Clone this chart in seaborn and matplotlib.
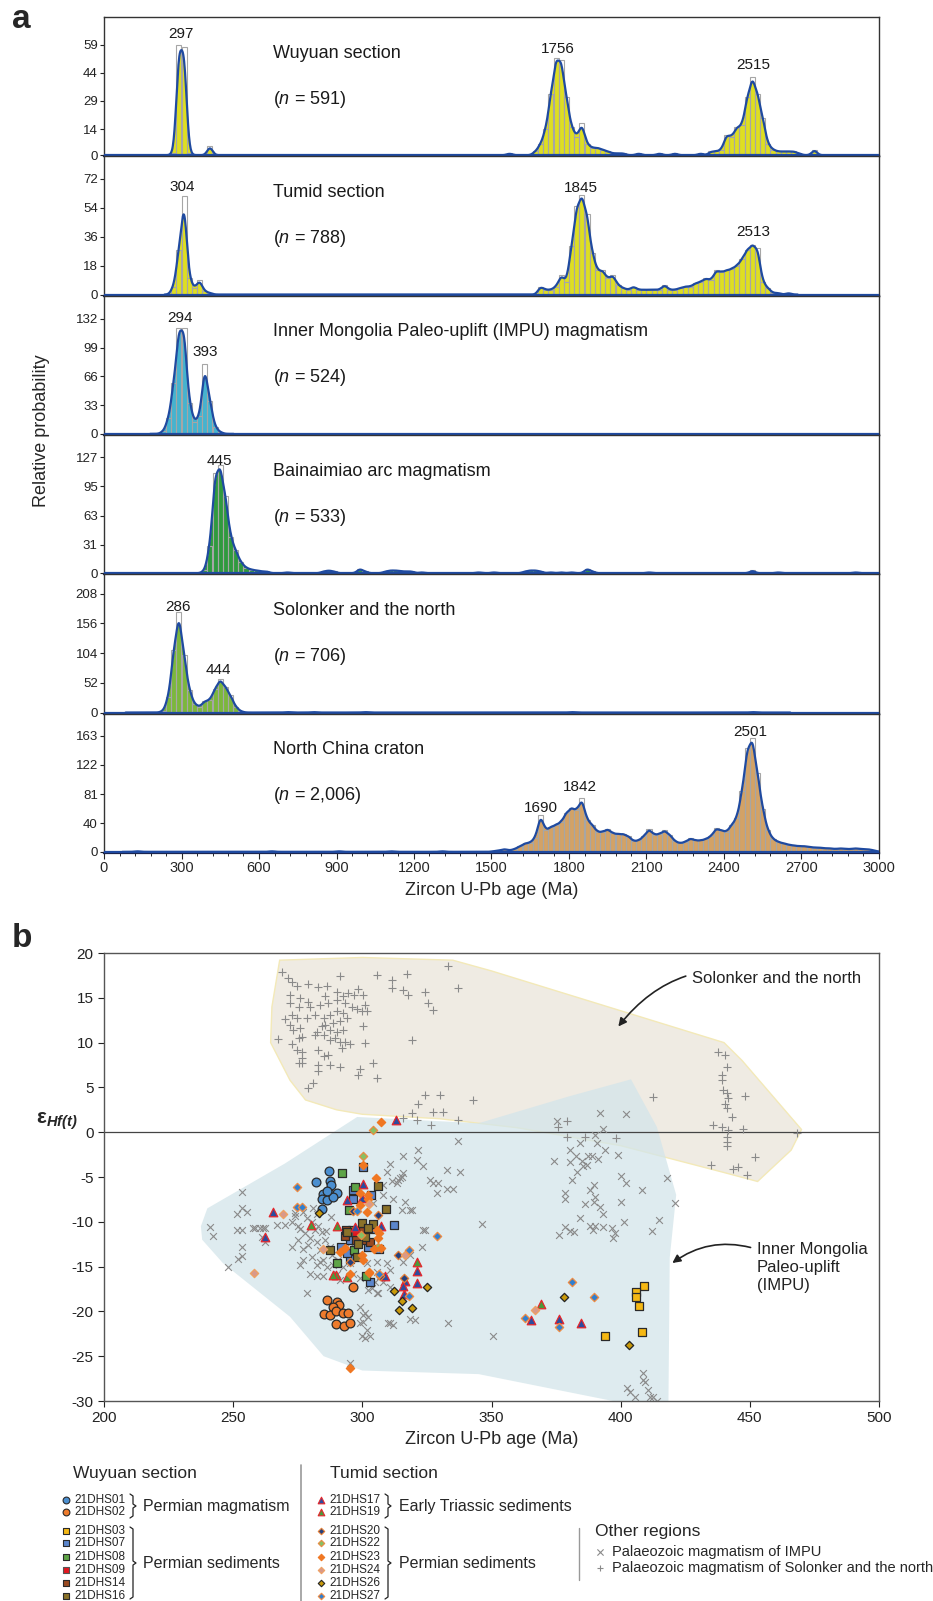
import numpy as np
import matplotlib
matplotlib.use("Agg")
import matplotlib.pyplot as plt
import seaborn as sns

# ---------------- panel a: detrital zircon age spectra (20 Ma bins) ----------------
wuyuan_bins = [260, 280, 300, 320, 400, 1560, 1660, 1680, 1700, 1720, 1740, 1760, 1780, 1800, 1820,
               1840, 1860, 1880, 1900, 1920, 1940, 1960, 1980, 2000, 2060, 2140, 2200, 2300, 2340,
               2360, 2380, 2400, 2420, 2440, 2460, 2480, 2500, 2520, 2540, 2560, 2580, 2600, 2620,
               2640, 2660, 2680, 2740]
wuyuan_counts = [1, 59, 58, 1, 5, 1, 2, 6, 14, 33, 52, 51, 31, 15, 10,
                 17, 6, 4, 4, 3, 2, 1, 1, 1, 1, 1, 1, 1, 2,
                 2, 3, 11, 10, 15, 16, 31, 42, 33, 20, 6, 3, 2, 2,
                 2, 2, 1, 3]

tumid_bins = [260, 280, 300, 320, 340, 360, 380, 400] + list(range(1680, 2620, 20)) + [2640]
tumid_counts = [5, 28, 61, 10, 4, 9, 2, 1,
                5, 3, 3, 5, 12, 8, 30, 55, 62, 50, 26, 15, 15, 10, 12, 6, 4, 3, 5, 3,
                3, 3, 3, 3, 6, 3, 3, 4, 5, 5, 7, 8, 10, 9, 15, 14, 15, 16, 18, 22,
                28, 31, 29, 8, 4, 1, 1, 1]

impu_bins = [220, 240, 260, 280, 300, 320, 340, 360, 380, 400, 420, 440]
impu_counts = [3, 18, 59, 122, 122, 36, 14, 20, 80, 38, 8, 2]

bnm_bins = [380, 400, 420, 440, 460, 480, 500, 520, 540, 560, 580, 600, 620, 700, 840, 860, 880,
            980, 1000, 1080, 1100, 1120, 1140, 1160, 1180, 1220, 1440, 1500, 1620, 1640, 1660,
            1680, 1720, 1760, 1800, 1860, 1880, 2100, 2500, 2600, 2900]
bnm_counts = [3, 30, 110, 118, 85, 40, 25, 12, 6, 4, 3, 2, 2, 1, 2, 3, 2,
              5, 2, 2, 3, 3, 2, 2, 2, 1, 1, 1, 2, 3, 3,
              2, 1, 1, 1, 5, 2, 1, 3, 1, 1]

sol_bins = [220, 240, 260, 280, 300, 320, 340, 360, 380, 400, 420, 440, 460, 480, 500, 520,
            700, 800, 1000, 1800, 2500]
sol_counts = [3, 28, 110, 175, 100, 40, 15, 10, 20, 22, 42, 58, 45, 30, 10, 2, 1, 1, 1, 1, 1]

ncc_bins = [120, 640, 900, 1100, 1300] + list(range(1500, 3000, 20))
ncc_counts = [1, 1, 1, 1, 1,
              1, 2, 4, 2, 4, 8, 12, 13, 20, 52, 30, 35, 38, 42, 55, 62, 58, 75, 45, 38,
              28, 28, 32, 26, 25, 25, 22, 15, 16, 22, 32, 24, 25, 30, 24, 15, 12, 14, 19, 16,
              16, 18, 22, 33, 30, 28, 38, 48, 85, 145, 160, 110, 60, 30, 18, 14, 12, 10, 9, 8,
              8, 7, 6, 6, 5, 5, 4, 5, 4, 4, 5, 4, 4, 3, 1]

panel_names = ["Wuyuan section", "Tumid section",
               "Inner Mongolia Paleo-uplift (IMPU) magmatism", "Bainaimiao arc magmatism",
               "Solonker and the north", "North China craton"]
panel_n = ["591", "788", "524", "533", "706", "2,006"]
panel_yticks = [[0, 14, 29, 44, 59], [0, 18, 36, 54, 72], [0, 33, 66, 99, 132],
                [0, 31, 63, 95, 127], [0, 52, 104, 156, 208], [0, 40, 81, 122, 163]]
peak_ages = [[297, 1756, 2515], [304, 1845, 2513], [294, 393], [445], [286, 444],
             [1690, 1842, 2501]]
peak_label_y = [[65, 57, 48], [67, 66, 39], [133, 94], [123], [184, 75], [62, 91, 168]]

# ---------------- panel b: zircon Hf isotopes ----------------
solonker_age = [268.8, 271.4, 272.7, 274.6, 279.1, 283.0, 286.2, 291.4, 290.1, 305.6, 311.4, 311.4,
                317.2, 315.9, 317.8, 324.3, 333.3, 337.2, 325.6, 327.5, 272.0, 275.9, 272.0, 275.3,
                279.1, 279.8, 283.6, 285.6, 286.9, 290.1, 292.7, 294.6, 296.6, 298.5, 300.4, 293.3,
                295.9, 297.8, 301.1, 299.8, 301.7, 270.1, 272.7, 274.6, 278.5, 281.7, 285.0, 287.5,
                290.1, 292.7, 294.0, 291.4, 288.8, 285.6, 284.3, 282.4, 272.0, 273.3, 275.9, 287.5,
                290.1, 292.7, 300.4, 267.5, 272.7, 275.3, 276.6, 281.7, 285.0, 287.5, 289.5, 291.4,
                293.3, 292.1, 295.3, 301.1, 319.1, 274.6, 276.6, 276.6, 275.3, 276.6, 283.0, 285.0,
                286.9, 287.5, 291.4, 283.0, 283.0, 299.1, 304.3, 298.5, 305.6, 279.1, 281.0, 324.3,
                330.1, 321.7, 327.5, 331.4, 326.5, 319.1, 315.9, 321.0, 343.0, 337.2, 412.7, 437.8,
                440.4, 441.1, 439.1, 439.1, 439.8, 441.1, 448.2, 441.7, 440.4, 441.1, 443.0, 435.9,
                439.1, 441.7, 447.5, 441.1, 441.1, 441.1, 468.2, 452.0, 435.0, 443.6, 445.6, 448.8,
                379.1, 375.9, 379.1, 386.2, 398.2]
solonker_eps = [17.9, 17.2, 16.8, 16.3, 16.5, 16.2, 16.3, 17.4, 15.7, 17.6, 17.0, 16.1,
                17.7, 15.9, 15.3, 15.7, 18.5, 16.1, 14.4, 13.6, 15.3, 15.0, 14.4, 14.0,
                14.5, 14.0, 14.2, 15.2, 14.4, 14.8, 15.2, 15.5, 15.3, 16.0, 15.3, 14.4,
                14.0, 13.7, 14.2, 13.5, 13.5, 12.6, 13.1, 12.7, 12.7, 13.1, 12.7, 13.1,
                13.5, 13.3, 12.7, 12.4, 12.2, 12.0, 11.8, 11.2, 12.0, 11.4, 11.6, 11.4,
                11.2, 11.4, 11.9, 10.4, 9.8, 10.5, 10.6, 10.9, 10.9, 10.3, 10.5, 10.1,
                10.1, 9.4, 9.8, 9.9, 10.3, 9.2, 8.9, 8.3, 7.7, 7.7, 9.2, 8.5,
                8.6, 7.5, 7.3, 7.5, 6.8, 7.1, 7.7, 6.4, 6.0, 4.9, 5.5, 4.2,
                4.2, 3.1, 2.2, 2.2, 0.8, 2.1, 1.6, 1.4, 3.6, 1.4, 3.9, 9.0,
                8.6, 7.3, 6.4, 5.8, 4.7, 4.4, 4.0, 3.8, 3.2, 2.7, 1.7, 0.8,
                0.6, 0.2, 0.4, -0.5, -1.1, -1.5, -0.1, -2.8, -3.7, -4.1, -3.9, -4.8,
                1.2, 0.6, -0.5, -0.5, -0.7]

impu_age = [241.0, 242.3, 253.3, 251.4, 253.3, 255.2, 251.4, 253.3, 257.8, 260.4, 262.3, 261.0,
            253.3, 253.3, 252.0, 248.1, 262.3, 278.5, 266.8, 275.9, 277.2, 273.9, 272.6, 278.5,
            270.1, 275.2, 280.4, 282.3, 277.8, 281.7, 284.3, 279.8, 275.2, 272.6, 277.2, 282.3,
            285.6, 287.5, 283.6, 280.4, 277.2, 275.9, 282.3, 284.9, 288.1, 290.7, 292.7, 295.2,
            296.5, 299.1, 291.4, 290.1, 301.7, 305.6, 303.0, 308.1, 310.7, 302.3, 306.2, 299.1,
            301.0, 302.3, 300.4, 299.1, 310.7, 308.1, 309.4, 315.9, 321.0, 313.3, 319.1, 323.6,
            323.0, 315.2, 313.9, 312.0, 316.5, 258.5, 261.7, 283.6, 286.2, 288.8, 279.8, 282.3,
            284.9, 295.2, 274.0, 276.0, 279.0, 281.0, 283.0, 286.0, 288.0, 295.2, 321.7, 310.7,
            337.2, 332.7, 337.8, 323.6, 315.9, 314.6, 311.4, 326.2, 327.5, 329.4, 328.8, 332.7,
            335.2, 308.1, 304.3, 315.2, 318.5, 346.2, 324.3, 318.5, 315.9, 309.4, 305.6, 310.7,
            306.8, 304.9, 303.6, 305.6, 318.5, 320.4, 310.1, 312.0, 333.3, 300.4, 301.7, 299.8,
            303.0, 301.0, 392.0, 402.1, 375.3, 393.1, 390.1, 384.3, 390.7, 380.2, 394.0, 399.1,
            374.2, 380.2, 382.7, 384.9, 387.5, 388.8, 391.4, 385.6, 386.9, 383.0, 381.1, 400.0,
            402.1, 417.8, 408.2, 389.5, 388.2, 378.5, 378.5, 390.1, 386.2, 389.5, 392.0, 393.3,
            400.0, 421.1, 384.3, 378.5, 380.4, 382.0, 376.3, 388.2, 390.1, 389.2, 393.3, 396.5,
            397.8, 397.2, 401.1, 412.0, 415.0, 350.7, 408.8, 409.5, 402.4, 405.6, 410.7, 411.4,
            412.7, 414.0, 408.8, 403.5]
impu_eps = [-10.6, -11.6, -6.7, -9.1, -8.5, -8.9, -10.9, -10.9, -10.7, -10.7, -10.7, -11.7,
            -12.8, -13.8, -14.2, -15.0, -12.2, -17.9, -10.4, -8.3, -8.9, -9.4, -10.0, -9.6,
            -10.4, -10.5, -10.0, -9.1, -11.3, -10.9, -11.1, -11.8, -12.0, -12.8, -13.0, -12.2,
            -12.0, -12.8, -13.2, -13.9, -14.3, -14.8, -14.8, -14.3, -13.7, -14.3, -15.0, -14.6,
            -15.8, -16.3, -16.5, -15.8, -14.6, -15.6, -16.9, -16.7, -17.3, -17.6, -18.0, -19.5,
            -20.2, -20.6, -21.2, -21.3, -21.3, -5.9, -4.4, -2.7, -3.1, -5.7, -8.7, -10.9,
            -12.8, -5.0, -5.3, -7.4, -7.8, -10.7, -10.7, -14.5, -15.0, -14.8, -15.8, -16.1,
            -16.0, -12.4, -9.0, -10.8, -12.6, -8.5, -10.5, -11.0, -9.5, -25.8, -2.0, -3.5,
            -1.0, -4.2, -4.4, -3.8, -4.6, -5.1, -5.5, -5.3, -5.7, -5.7, -6.8, -6.3,
            -6.3, -7.0, -7.9, -8.7, -8.7, -10.2, -10.9, -13.7, -14.5, -14.6, -14.5, -15.4,
            -16.1, -16.7, -17.4, -18.0, -20.8, -21.0, -21.3, -21.5, -21.3, -20.4, -22.1, -22.7,
            -22.7, -23.0, 2.1, 2.0, 1.2, 0.4, -0.3, -1.2, -1.2, -2.0, -2.0, -2.6,
            -3.2, -3.3, -2.7, -3.2, -2.7, -2.7, -3.0, -3.8, -3.7, -4.4, -5.3, -4.9,
            -5.7, -5.1, -6.5, -5.9, -6.4, -6.8, -7.4, -7.2, -8.0, -7.8, -8.3, -9.1,
            -7.8, -7.9, -9.6, -10.6, -11.0, -11.1, -11.5, -10.5, -10.5, -10.9, -10.6, -10.7,
            -11.3, -11.8, -10.0, -11.0, -9.8, -22.8, -26.9, -27.9, -28.6, -29.6, -28.8, -29.5,
            -29.6, -30.0, -27.7, -29.0]

# field outlines (age, eHf)
solonker_field = [(268, 19.2), (300, 19.5), (335, 19.2), (350, 18.0), (440, 10.0), (447, 8.0),
                  (470, 0.3), (466, -2.0), (453, -5.5), (440, -4.5), (400, -1.5), (360, 0.5),
                  (330, 1.5), (300, 2.0), (290, 2.5), (278, 3.6), (272, 5.8), (264.5, 10.0),
                  (265, 14.0)]
impu_field = [(237.5, -10.5), (240, -8.5), (252, -6.5), (270, -3.5), (298, 1.7), (345, 1.0),
              (380, 4.0), (404, 5.9), (414, 0.6), (421.5, -7.0), (419, -14.0), (418.5, -30),
              (397, -30), (345, -27), (300, -26.6), (285, -25.0), (272, -20.6), (259, -17.6),
              (246, -14.6), (238, -12.0)]

s01 = [(287.2, -4.3), (281.9, -5.6), (287.5, -5.4), (287.8, -5.9), (284.9, -6.9), (287.5, -6.9),
       (290.3, -6.8), (284.3, -7.4), (286.5, -7.6), (288.5, -7.2), (284.3, -8.6), (286.5, -6.6)]
s02 = [(296.3, -17.3), (286.2, -18.7), (290.3, -18.9), (291.1, -19.3), (288.8, -19.5), (285.2, -20.3),
       (287.5, -20.4), (289.7, -20.0), (292.4, -20.2), (294.3, -20.2), (289.8, -21.4), (293.0, -21.6),
       (295.2, -21.3)]
s03 = [(409.1, -17.2), (406.0, -17.8), (406.0, -18.4), (407.0, -19.4), (408.2, -22.3), (394.1, -22.8)]
s07 = [(300.4, -3.9), (296.3, -6.5), (296.5, -7.5), (303.5, -7.0), (312.3, -10.4), (303.4, -10.8),
       (295.2, -12.0), (291.8, -12.8), (295.2, -14.1), (303.0, -16.7), (306.3, -13.0), (302.1, -12.8),
       (294.0, -13.5)]
s08 = [(292.3, -4.5), (297.3, -6.1), (295.0, -8.7), (290.3, -14.6), (301.3, -16.0), (296.8, -13.1),
       (295.9, -10.9)]
s09 = [(297.4, -11.5)]
s14 = [(293.3, -11.6), (300.1, -11.0), (300.4, -12.0), (297.6, -12.0), (303.0, -12.3), (293.7, -10.9)]
s16 = [(306.2, -6.0), (309.2, -8.6), (287.5, -13.2), (297.8, -13.9), (299.8, -10.1), (304.3, -10.3),
       (294.0, -11.1), (302.3, -10.7), (301.0, -11.7), (298.5, -12.5)]
s17 = [(265.3, -8.9), (262.3, -11.7), (294.0, -7.6), (300.4, -5.8), (299.8, -7.3), (297.2, -10.6),
       (307.2, -10.5), (308.8, -16.0), (321.0, -15.5), (316.5, -16.6), (315.6, -17.2), (321.0, -16.8),
       (316.1, -18.1), (365.3, -21.0), (376.2, -20.8), (384.5, -21.3), (313.0, 1.4)]
s19 = [(280.1, -10.4), (290.2, -10.5), (289.8, -15.9), (294.2, -16.2), (321.0, -14.5), (369.1, -19.2),
       (288.8, -15.9)]
s20 = [(306.2, -9.2), (313.7, -13.7), (306.8, -16.0), (295.2, -14.5), (296.5, -8.8), (316.0, -16.3)]
s22 = [(300.2, -2.7), (304.3, 0.3), (299.5, -11.5), (306.0, -12.8)]
s23 = [(307.1, 1.1), (300.4, -3.7), (305.3, -5.1), (299.1, -8.1), (302.3, -7.4), (301.7, -8.9),
       (305.6, -10.9), (306.2, -11.8), (304.5, -13.0), (299.9, -13.7), (291.4, -13.4), (293.3, -12.9),
       (295.2, -15.8), (302.7, -15.7), (295.2, -26.3), (299.1, -6.8), (302.3, -7.0), (306.5, -11.2),
       (307.2, -12.9), (300.4, -14.3), (302.6, -15.6)]
s24 = [(269.2, -9.1), (258.1, -15.7), (284.9, -13.0), (316.5, -13.7), (367.0, -19.8), (302.5, -8.0)]
s26 = [(283.2, -9.0), (312.4, -17.7), (315.4, -18.8), (314.3, -19.8), (319.1, -19.6), (324.9, -17.3),
       (378.2, -18.4), (403.1, -23.7)]
s27 = [(274.6, -6.1), (274.9, -8.3), (276.6, -8.3), (297.8, -8.8), (328.8, -11.6), (318.2, -13.2),
       (318.2, -18.3), (306.6, -15.8), (381.2, -16.7), (389.8, -18.4), (363.1, -20.7), (376.2, -21.7)]

# ---------------- styles ----------------
fill_colors = ["#dede22", "#dede22", "#45b3cf", "#2f9a3e", "#7cb73c", "#d3a266"]
curve_color = "#1f4aa0"
bar_edge = "#a6a6a6"
y_tops = [73.9, 85.9, 158.7, 151.2, 241.5, 193.6]

# name, points, marker, face, edge, size
sample_styles = [
    ("21DHS03", s03, "s", "#f5b814", "#2a2a2a", 38),
    ("21DHS07", s07, "s", "#5b86cc", "#2a2a2a", 38),
    ("21DHS08", s08, "s", "#5ea447", "#2a2a2a", 38),
    ("21DHS09", s09, "s", "#e3161f", "#555555", 38),
    ("21DHS14", s14, "s", "#9a4a22", "#2a2a2a", 38),
    ("21DHS16", s16, "s", "#8a7229", "#2a2a2a", 38),
    ("21DHS01", s01, "o", "#4b8fd0", "#2a2a2a", 40),
    ("21DHS02", s02, "o", "#ee7b2c", "#2a2a2a", 40),
    ("21DHS17", s17, "^", "#2c4c9f", "#e6262b", 38),
    ("21DHS19", s19, "^", "#4a9a3a", "#e6262b", 38),
    ("21DHS20", s20, "D", "#23407f", "#e37d34", 18),
    ("21DHS22", s22, "D", "#86c064", "#ea8a40", 18),
    ("21DHS23", s23, "D", "#f07722", "#f07722", 18),
    ("21DHS24", s24, "D", "#d8998a", "#f0a060", 18),
    ("21DHS26", s26, "D", "#c99a0a", "#222222", 18),
    ("21DHS27", s27, "D", "#2f7fd0", "#f08a40", 18),
]

sns.set_theme(style="ticks")
plt.rcParams["font.family"] = ["Liberation Sans", "DejaVu Sans"]
plt.rcParams["axes.unicode_minus"] = False
plt.rcParams["mathtext.fontset"] = "custom"
plt.rcParams["mathtext.rm"] = "Liberation Sans"
plt.rcParams["mathtext.it"] = "Liberation Sans:italic"
plt.rcParams["mathtext.bf"] = "Liberation Sans:bold"
plt.rcParams["mathtext.bfit"] = "Liberation Sans:italic:bold"

W, H = 933, 1601
fig = plt.figure(figsize=(W / 100, H / 100), dpi=100)

# ---------------- panel a ----------------
all_bins = [wuyuan_bins, tumid_bins, impu_bins, bnm_bins, sol_bins, ncc_bins]
all_counts = [wuyuan_counts, tumid_counts, impu_counts, bnm_counts, sol_counts, ncc_counts]
ph = (853 - 17) / 6
target_bw = 11.0
for i in range(6):
    top = 17 + i * ph
    ax = fig.add_axes([104 / W, 1 - (top + ph) / H, 775 / W, ph / H])
    bins = np.array(all_bins[i], dtype=float)
    counts = np.array(all_counts[i], dtype=float)
    centers = bins + 10
    # choose bw_adjust so the kernel is about target_bw Ma wide
    w = counts / counts.sum()
    mu = (w * centers).sum()
    sd = np.sqrt((w * (centers - mu) ** 2).sum() / (1 - (w ** 2).sum()))
    neff = 1 / (w ** 2).sum()
    bw_adj = target_bw / (sd * neff ** (-0.2))
    sns.histplot(x=centers, weights=counts, binwidth=20,
                 binrange=(bins.min(), bins.max() + 20), kde=True, fill=False,
                 color=curve_color,
                 kde_kws={"bw_adjust": bw_adj, "gridsize": 1500, "cut": 4},
                 line_kws={"linewidth": 1.6, "zorder": 4}, ax=ax)
    for p in list(ax.patches):
        if p.get_height() <= 0:
            p.remove()
        else:
            p.set_edgecolor(bar_edge)
            p.set_linewidth(0.8)
            p.set_zorder(3)
    xs, ys = ax.lines[-1].get_data()
    ax.fill_between(xs, ys, 0, color=fill_colors[i], lw=0, zorder=1)
    ax.axhline(0, color=curve_color, lw=1.6, zorder=4)
    ax.set_xlim(0, 3000)
    ax.set_ylim(-y_tops[i] * 0.008, y_tops[i])
    ax.set_yticks(panel_yticks[i])
    ax.set_yticklabels([str(t) for t in panel_yticks[i]], fontsize=9.5)
    ax.set_ylabel("")
    ax.tick_params(axis="y", length=3, width=0.8, pad=1.5, colors="#222222")
    for s in ax.spines.values():
        s.set_color("#333333")
        s.set_linewidth(1.0)
    ax.spines["bottom"].set_color("#1b2550")
    ax.spines["bottom"].set_linewidth(1.6)
    ax.text(0.218, 0.74, panel_names[i], transform=ax.transAxes, fontsize=13,
            ha="left", va="center", color="#1a1a1a")
    ax.text(0.218, 0.41, "($\\mathit{n}$ = " + panel_n[i] + ")", transform=ax.transAxes,
            fontsize=13, ha="left", va="center", color="#1a1a1a")
    for age, yv in zip(peak_ages[i], peak_label_y[i]):
        ax.text(age, yv, str(age), fontsize=11, ha="center", va="center", color="#1a1a1a")
    if i < 5:
        ax.tick_params(axis="x", bottom=False, labelbottom=False)
        ax.set_xlabel("")
    else:
        ax.set_xticks(range(0, 3001, 300))
        ax.set_xticks(range(0, 3001, 60), minor=True)
        ax.tick_params(axis="x", which="major", length=4, width=0.8, labelsize=10.5, pad=2)
        ax.tick_params(axis="x", which="minor", length=2.5, width=0.7)
        ax.set_xlabel("Zircon U-Pb age (Ma)", fontsize=13, labelpad=5)

fig.text(0.044, 1 - 431 / H, "Relative probability", rotation=90, fontsize=13,
         ha="center", va="center")
fig.text(12 / W, 1 - 19 / H, "a", fontsize=24, fontweight="bold", ha="left", va="center")
fig.text(12 / W, 1 - 938 / H, "b", fontsize=24, fontweight="bold", ha="left", va="center")

# ---------------- panel b ----------------
bx = fig.add_axes([104 / W, 1 - 1401 / H, 775 / W, (1401 - 953) / H])
bx.fill([p[0] for p in solonker_field], [p[1] for p in solonker_field],
        facecolor="#efebe3", edgecolor="#f3e9b8", lw=1.0, zorder=0)
bx.fill([p[0] for p in impu_field], [p[1] for p in impu_field],
        facecolor="#d3e5ea", edgecolor="none", alpha=0.75, zorder=0.5)
bx.axhline(0, color="#444444", lw=0.9, zorder=1)
sns.scatterplot(x=solonker_age, y=solonker_eps, marker="+", color="#8a8a8a", s=30,
                linewidth=0.8, ax=bx, zorder=2)
sns.scatterplot(x=impu_age, y=impu_eps, marker="x", color="#8a8a8a", s=24,
                linewidth=0.8, ax=bx, zorder=2)
for name, pts, mk, fc, ec, sz in sample_styles:
    sns.scatterplot(x=[p[0] for p in pts], y=[p[1] for p in pts], marker=mk, color=fc,
                    edgecolor=ec, s=sz, linewidth=0.9, ax=bx, zorder=3)
bx.set_xlim(200, 500)
bx.set_ylim(-30, 20)
bx.set_xticks(range(200, 501, 50))
bx.set_yticks(range(-30, 21, 5))
bx.tick_params(length=4, width=0.8, labelsize=11, colors="#222222")
for s in bx.spines.values():
    s.set_color("#555555")
    s.set_linewidth(1.0)
bx.set_xlabel("Zircon U-Pb age (Ma)", fontsize=13, labelpad=4)
bx.set_ylabel("")
fig.text(36 / W, 1 - 1121 / H, r"$\mathbf{\varepsilon}_{\mathbfit{Hf(t)}}$", fontsize=15,
         ha="left", va="center")
bx.annotate("Solonker and the north", xy=(399.1, 11.8), xytext=(427.5, 17.1), fontsize=12,
            ha="left", va="center", color="#222222",
            arrowprops=dict(arrowstyle="-|>", color="#222222", lw=1.2,
                            connectionstyle="arc3,rad=0.35", shrinkA=2, shrinkB=0))
bx.annotate("Inner Mongolia\nPaleo-uplift\n(IMPU)", xy=(420.0, -14.6), xytext=(452.6, -12.2),
            fontsize=12, ha="left", va="top", color="#222222", linespacing=1.25,
            arrowprops=dict(arrowstyle="-|>", color="#222222", lw=1.2,
                            connectionstyle="arc3,rad=0.25", shrinkA=2, shrinkB=0,
                            relpos=(0, 0.85)))

# ---------------- legend block ----------------
lg = fig.add_axes([0, 0, 1, 1])
lg.set_xlim(0, W)
lg.set_ylim(H, 0)
lg.axis("off")
lg.text(73, 1473, "Wuyuan section", fontsize=12.5, ha="left", va="center")
lg.text(330, 1473, "Tumid section", fontsize=12.5, ha="left", va="center")
lg.plot([301, 301], [1465, 1601], color="#999999", lw=1.2)
lg.plot([579, 579], [1528, 1580], color="#999999", lw=1.0)
lg.text(595, 1531, "Other regions", fontsize=12.5, ha="left", va="center")

style_by_name = {s[0]: s for s in sample_styles}
wuyuan_rows = [("21DHS01", 1500), ("21DHS02", 1512), ("21DHS03", 1531), ("21DHS07", 1543),
               ("21DHS08", 1557), ("21DHS09", 1570), ("21DHS14", 1583), ("21DHS16", 1596)]
tumid_rows = [("21DHS17", 1500), ("21DHS19", 1512), ("21DHS20", 1531), ("21DHS22", 1543),
              ("21DHS23", 1557), ("21DHS24", 1570), ("21DHS26", 1583), ("21DHS27", 1596)]
for rows, mx in [(wuyuan_rows, 66), (tumid_rows, 321)]:
    for name, yy in rows:
        _, _, mk, fc, ec, sz = style_by_name[name]
        sns.scatterplot(x=[mx], y=[yy], marker=mk, color=fc, edgecolor=ec,
                        s=sz * 0.6, linewidth=0.8, ax=lg)
        lg.text(mx + 8, yy, name, fontsize=8.5, ha="left", va="center")


def brace(x0, y0, y1):
    ym = (y0 + y1) / 2
    lg.plot([x0, x0 + 3, x0 + 3, x0 + 6, x0 + 3, x0 + 3, x0],
            [y0, y0 + 2, ym - 2, ym, ym + 2, y1 - 2, y1], color="#222222", lw=0.9)


brace(130, 1494, 1518)
brace(130, 1527, 1599)
brace(385, 1494, 1518)
brace(385, 1527, 1599)
lg.text(143, 1506, "Permian magmatism", fontsize=11.5, ha="left", va="center")
lg.text(143, 1563, "Permian sediments", fontsize=11.5, ha="left", va="center")
lg.text(399, 1506, "Early Triassic sediments", fontsize=11.5, ha="left", va="center")
lg.text(399, 1563, "Permian sediments", fontsize=11.5, ha="left", va="center")
sns.scatterplot(x=[600], y=[1552], marker="x", color="#8a8a8a", s=20, linewidth=0.8, ax=lg)
sns.scatterplot(x=[600], y=[1568], marker="+", color="#8a8a8a", s=24, linewidth=0.8, ax=lg)
lg.text(612, 1552, "Palaeozoic magmatism of IMPU", fontsize=10.5, ha="left", va="center")
lg.text(612, 1568, "Palaeozoic magmatism of Solonker and the north", fontsize=10.5,
        ha="left", va="center")
lg.set_xlim(0, W)
lg.set_ylim(H, 0)

fig.savefig("out.png", dpi=100)
